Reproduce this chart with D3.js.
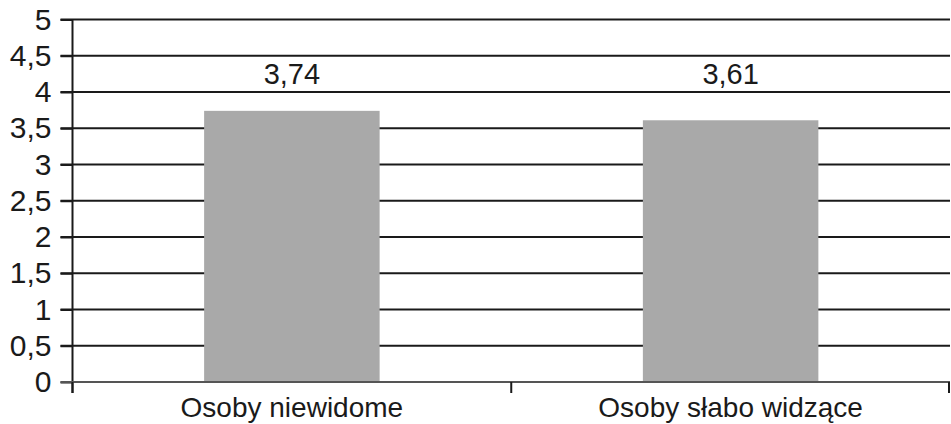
<!DOCTYPE html>
<html><head><meta charset="utf-8">
<script src="https://cdn.jsdelivr.net/npm/d3@7"></script>
<style>
html,body{margin:0;padding:0;background:#fff;}
text{font-family:"Liberation Sans",Arial,sans-serif;fill:#1a1a1a;}
</style></head>
<body>
<svg id="c" width="951" height="424"></svg>
<script>
const categories = ["Osoby niewidome", "Osoby słabo widzące"];
const values = [3.74, 3.61];
const valueLabels = ["3,74", "3,61"];
const yTicks = [0, 0.5, 1, 1.5, 2, 2.5, 3, 3.5, 4, 4.5, 5];

const svg = d3.select("#c");
const mLeft = 72.5, mRight = 950, mTop = 19.5, mBottom = 382;
const x = d3.scaleBand().domain(categories).range([mLeft, mRight]).paddingInner(0.6).paddingOuter(0.3);
const y = d3.scaleLinear().domain([0, 5]).range([mBottom, mTop]);
const fmt = d => String(d).replace(".", ",");

// gridlines
svg.append("g").selectAll("line").data(yTicks.filter(d => d > 0)).join("line")
  .attr("x1", mLeft - 12).attr("x2", mRight)
  .attr("y1", d => y(d)).attr("y2", d => y(d))
  .attr("stroke", "#1a1a1a").attr("stroke-width", 2);

// bars
svg.append("g").selectAll("rect").data(values).join("rect")
  .attr("x", (d, i) => x(categories[i]))
  .attr("width", x.bandwidth())
  .attr("y", d => y(d))
  .attr("height", d => y(0) - y(d))
  .attr("fill", "#a9a9a9");

// y axis
const yAxis = d3.axisLeft(y).tickValues(yTicks).tickFormat(fmt).tickSize(12).tickPadding(9);
const gy = svg.append("g").attr("transform", `translate(${mLeft},0)`).call(yAxis);
gy.select(".domain").attr("stroke", "#1a1a1a").attr("stroke-width", 2)
  .attr("d", `M0,${mTop}V${mBottom + 11}`);
gy.selectAll(".tick line").attr("stroke", "#1a1a1a").attr("stroke-width", 2);
gy.selectAll(".tick text").style("font-size", "30px").attr("fill", "#1a1a1a")
  .attr("font-family", "Liberation Sans, Arial, sans-serif");

// x axis
const gx = svg.append("g").attr("transform", `translate(0,${mBottom})`);
gx.append("line").attr("x1", mLeft - 12).attr("x2", mRight).attr("y1", 0).attr("y2", 0)
  .attr("stroke", "#555").attr("stroke-width", 2);
const bounds = [mLeft, (mLeft + mRight) / 2, mRight - 1];
gx.selectAll("line.t").data(bounds).join("line").attr("class", "t")
  .attr("x1", d => d).attr("x2", d => d).attr("y1", 0).attr("y2", 11)
  .attr("stroke", "#1a1a1a").attr("stroke-width", 2);
gx.selectAll("text").data(categories).join("text")
  .attr("x", d => x(d) + x.bandwidth() / 2)
  .attr("y", 35)
  .attr("text-anchor", "middle")
  .style("font-size", "28px")
  .text(d => d);

// value labels
svg.append("g").selectAll("text").data(values).join("text")
  .attr("x", (d, i) => x(categories[i]) + x.bandwidth() / 2)
  .attr("y", y(4.25))
  .attr("dy", "0.36em")
  .attr("text-anchor", "middle")
  .style("font-size", "29px")
  .text((d, i) => valueLabels[i]);
</script>
</body></html>
